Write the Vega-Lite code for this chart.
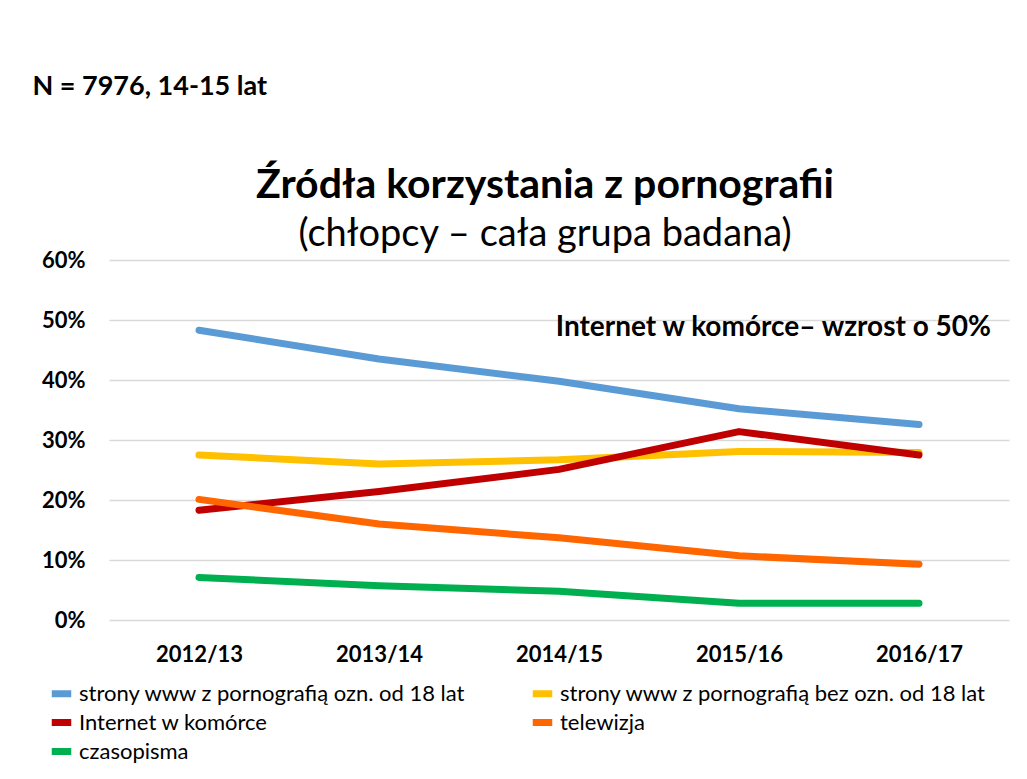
{
  "$schema": "https://vega.github.io/schema/vega-lite/v6.json",
  "background": "white",
  "padding": {"left": 32, "top": 73, "right": 5, "bottom": 5},
  "config": {"font": "Lato", "view": {"stroke": null}},
  "title": {"text": "N = 7976, 14-15 lat", "anchor": "start", "frame": "bounds", "dx": -9, "fontSize": 27, "font": "Lato", "fontWeight": "bold", "color": "black", "offset": 64},
  "vconcat": [
    {
      "width": 900,
      "height": 360,
      "title": {
        "text": "Źródła korzystania z pornografii",
        "subtitle": "(chłopcy – cała grupa badana)",
        "anchor": "middle",
        "dx": -14,
        "font": "Lato",
        "fontSize": 41,
        "fontWeight": "bold",
        "color": "black",
        "subtitleFont": "Lato",
        "subtitleFontSize": 38,
        "subtitleColor": "black",
        "subtitlePadding": 9,
        "offset": -6
      },
      "data": {
        "values": [
          {"okres": "2012/13", "seria": "strony www z pornografią ozn. od 18 lat", "wartosc": 0.483},
          {"okres": "2013/14", "seria": "strony www z pornografią ozn. od 18 lat", "wartosc": 0.435},
          {"okres": "2014/15", "seria": "strony www z pornografią ozn. od 18 lat", "wartosc": 0.398},
          {"okres": "2015/16", "seria": "strony www z pornografią ozn. od 18 lat", "wartosc": 0.352},
          {"okres": "2016/17", "seria": "strony www z pornografią ozn. od 18 lat", "wartosc": 0.326},
          {"okres": "2012/13", "seria": "strony www z pornografią bez ozn. od 18 lat", "wartosc": 0.275},
          {"okres": "2013/14", "seria": "strony www z pornografią bez ozn. od 18 lat", "wartosc": 0.260},
          {"okres": "2014/15", "seria": "strony www z pornografią bez ozn. od 18 lat", "wartosc": 0.267},
          {"okres": "2015/16", "seria": "strony www z pornografią bez ozn. od 18 lat", "wartosc": 0.281},
          {"okres": "2016/17", "seria": "strony www z pornografią bez ozn. od 18 lat", "wartosc": 0.279},
          {"okres": "2012/13", "seria": "Internet w komórce", "wartosc": 0.183},
          {"okres": "2013/14", "seria": "Internet w komórce", "wartosc": 0.214},
          {"okres": "2014/15", "seria": "Internet w komórce", "wartosc": 0.251},
          {"okres": "2015/16", "seria": "Internet w komórce", "wartosc": 0.314},
          {"okres": "2016/17", "seria": "Internet w komórce", "wartosc": 0.275},
          {"okres": "2012/13", "seria": "telewizja", "wartosc": 0.201},
          {"okres": "2013/14", "seria": "telewizja", "wartosc": 0.160},
          {"okres": "2014/15", "seria": "telewizja", "wartosc": 0.137},
          {"okres": "2015/16", "seria": "telewizja", "wartosc": 0.107},
          {"okres": "2016/17", "seria": "telewizja", "wartosc": 0.093},
          {"okres": "2012/13", "seria": "czasopisma", "wartosc": 0.071},
          {"okres": "2013/14", "seria": "czasopisma", "wartosc": 0.057},
          {"okres": "2014/15", "seria": "czasopisma", "wartosc": 0.048},
          {"okres": "2015/16", "seria": "czasopisma", "wartosc": 0.028},
          {"okres": "2016/17", "seria": "czasopisma", "wartosc": 0.028}
        ]
      },
      "layer": [
        {
          "mark": {"type": "line", "strokeWidth": 7, "strokeCap": "round", "strokeJoin": "round"},
          "encoding": {
            "x": {
              "field": "okres", "type": "ordinal",
              "scale": {"type": "point", "padding": 0.5},
              "axis": {"title": null, "labelAngle": 0, "labelFontSize": 22, "labelFontWeight": "bold", "labelColor": "black", "domain": false, "ticks": false, "labelPadding": 24, "grid": false}
            },
            "y": {
              "field": "wartosc", "type": "quantitative",
              "scale": {"domain": [0, 0.6], "nice": false},
              "axis": {"title": null, "values": [0, 0.1, 0.2, 0.3, 0.4, 0.5, 0.6], "format": ".0%", "labelFontSize": 22, "labelFontWeight": "bold", "labelColor": "black", "domain": false, "ticks": false, "labelPadding": 24, "gridColor": "#d9d9d9", "gridWidth": 1.5}
            },
            "color": {
              "field": "seria", "type": "nominal",
              "scale": {
                "domain": ["strony www z pornografią ozn. od 18 lat", "strony www z pornografią bez ozn. od 18 lat", "Internet w komórce", "telewizja", "czasopisma"],
                "range": ["#5B9BD5", "#FFC000", "#C00000", "#FF6600", "#00B050"]
              },
              "legend": {
                "title": null, "orient": "none", "legendX": -61, "legendY": 420,
                "direction": "horizontal", "columns": 2, "columnPadding": 52, "rowPadding": 0,
                "symbolType": "stroke", "symbolStrokeWidth": 7, "symbolSize": 380,
                "labelFontSize": 22, "labelColor": "black", "labelOffset": 4, "labelLimit": 600
              }
            }
          }
        },
        {
          "data": {"values": [{}]},
          "mark": {"type": "text", "align": "right", "baseline": "middle", "dx": 72, "dy": 8, "fontSize": 28, "fontWeight": "bold", "color": "black", "font": "Lato"},
          "encoding": {
            "x": {"datum": "2016/17", "type": "ordinal"},
            "y": {"datum": 0.5, "type": "quantitative"},
            "text": {"value": "Internet w komórce– wzrost o 50%"}
          }
        }
      ]
    }
  ]
}
